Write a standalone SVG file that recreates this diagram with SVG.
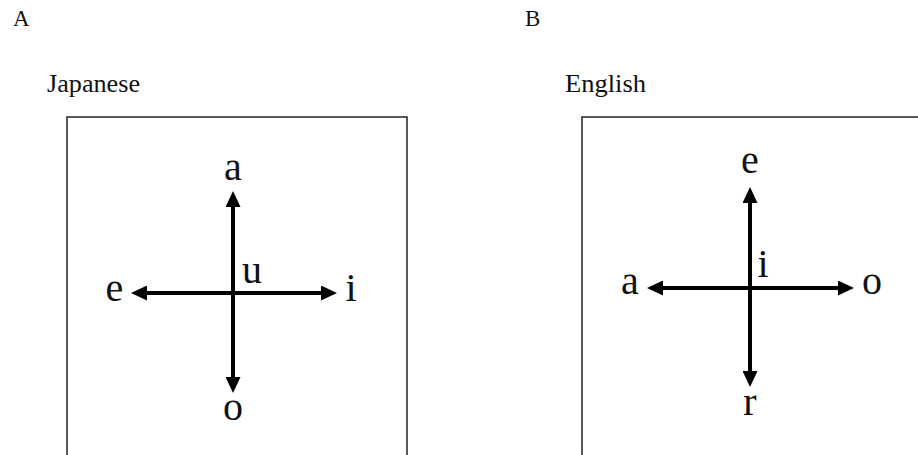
<svg xmlns="http://www.w3.org/2000/svg" width="918" height="455" viewBox="0 0 918 455">
<style>
text{font-family:'Liberation Serif','Times New Roman',Times,serif;fill:#111}
.h{font-size:23px}
.title{font-size:26px}
.v{font-size:40px;text-anchor:middle}
.box{fill:none;stroke:#222;stroke-width:1.5}
.ax{stroke:#000;stroke-width:4;fill:none;marker-start:url(#ah);marker-end:url(#ah)}
</style>
<defs>
<marker id="ah" markerUnits="userSpaceOnUse" markerWidth="16" markerHeight="15" refX="0" refY="7.5" orient="auto-start-reverse" viewBox="0 0 16 15">
<path d="M0,0 L16,7.5 L0,15 z" fill="#000"/>
</marker>
</defs>
<rect width="918" height="455" fill="#fff"/>
<g id="panelA">
<text class="h" x="13" y="26">A</text>
<text class="title" x="47" y="92" textLength="93" lengthAdjust="spacingAndGlyphs">Japanese</text>
<rect class="box" x="67" y="117" width="340" height="360"/>
</g>
<g id="panelB">
<text class="h" x="525" y="26">B</text>
<text class="title" x="565" y="92" textLength="81" lengthAdjust="spacingAndGlyphs">English</text>
<rect class="box" x="582" y="117" width="360" height="360"/>
</g>
<g id="connectors">
<line class="ax" x1="233" y1="207" x2="233" y2="377"/>
<line class="ax" x1="147" y1="293" x2="321" y2="293"/>
<line class="ax" x1="750" y1="203" x2="750" y2="371"/>
<line class="ax" x1="663" y1="288" x2="838" y2="288"/>
</g>
<g id="jp-a"><text class="v" x="233" y="180">a</text></g>
<g id="jp-e"><text class="v" x="114.5" y="301">e</text></g>
<g id="jp-i"><text class="v" x="351" y="301">i</text></g>
<g id="jp-u"><text class="v" x="252" y="283">u</text></g>
<g id="jp-o"><text class="v" x="233" y="420">o</text></g>
<g id="en-e"><text class="v" x="750" y="173">e</text></g>
<g id="en-a"><text class="v" x="630" y="294">a</text></g>
<g id="en-o"><text class="v" x="872" y="294">o</text></g>
<g id="en-i"><text class="v" x="763" y="277">i</text></g>
<g id="en-r"><text class="v" x="750" y="415">r</text></g>
</svg>
